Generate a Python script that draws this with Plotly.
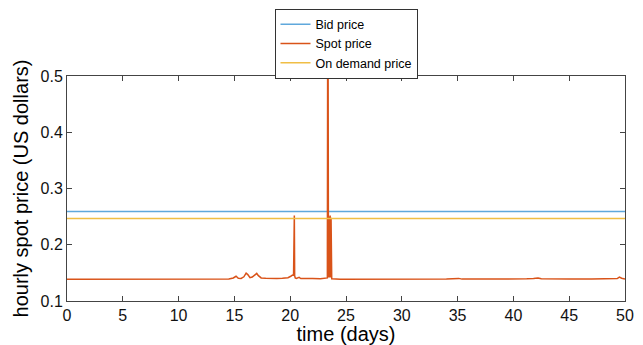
import plotly.graph_objects as go

# --- data ---
bid_price = 0.259
on_demand_price = 0.2467
x_range = [0, 50]

spot_days = [0, 2, 4, 6, 8, 10, 12, 13.5, 14.5, 14.9, 15.15, 15.35, 15.6, 15.85, 16.05, 16.2, 16.4,
             16.6, 16.8, 17.0, 17.15, 17.4, 17.8, 18.3, 18.8, 19.3, 19.8, 20.05, 20.2, 20.3,
             20.34, 20.37, 20.40, 20.45, 20.55, 20.8, 20.95, 21.3, 22.0, 22.7, 23.2, 23.33,
             23.36, 23.39, 23.42, 23.46, 23.5, 23.54, 23.58, 23.62, 23.66, 23.72, 24.5, 26,
             28, 30, 32, 34, 35.1, 35.4, 37, 39, 41.2, 41.8, 42.2, 42.5, 43.5, 45, 47, 48.4,
             48.8, 49.3, 49.5, 49.7, 50]
spot_values = [0.1387, 0.1388, 0.1387, 0.1388, 0.1387, 0.1388, 0.1388, 0.1389, 0.1392, 0.1410, 0.1440, 0.1405, 0.1402, 0.1430, 0.1495, 0.1470, 0.1415,
               0.1425, 0.1460, 0.1490, 0.1450, 0.1410, 0.1405, 0.1400, 0.1402, 0.1405, 0.1415, 0.1440, 0.1460, 0.1455,
               0.2520, 0.2520, 0.1450, 0.1410, 0.1400, 0.1420, 0.1400, 0.1395, 0.1398, 0.1396, 0.1400, 0.1410,
               0.6000, 0.6000, 0.2500, 0.1420, 0.2500, 0.1420, 0.2520, 0.1420, 0.2480, 0.1395, 0.1388, 0.1388,
               0.1390, 0.1388, 0.1390, 0.1389, 0.1402, 0.1389, 0.1390, 0.1389, 0.1395, 0.1402, 0.1410, 0.1395, 0.1390, 0.1389, 0.1390, 0.1392,
               0.1405, 0.1398, 0.1425, 0.1405, 0.1392]

BLUE = "#5FA8DC"
ORANGE = "#D95319"
YELLOW = "#F0BE45"
FONT = "Liberation Sans, Arial, sans-serif"

fig = go.Figure()
fig.add_trace(go.Scatter(x=x_range, y=[bid_price, bid_price], mode="lines",
                         name="Bid price", line=dict(color=BLUE, width=1.5)))
fig.add_trace(go.Scatter(x=spot_days, y=spot_values, mode="lines",
                         name="Spot price", line=dict(color=ORANGE, width=1.5)))
fig.add_trace(go.Scatter(x=x_range, y=[on_demand_price, on_demand_price], mode="lines",
                         name="On demand price", line=dict(color=YELLOW, width=1.5)))

axis_common = dict(showgrid=False, zeroline=False, showline=True, linecolor="#444444",
                   linewidth=1, mirror="ticks", ticks="inside", ticklen=5, tickcolor="#444444",
                   tickfont=dict(family=FONT, size=16, color="#111111"), automargin=False)

# page body has an 8px margin: figure size and margins compensate for it
fig.update_layout(
    width=635, height=337,
    margin=dict(l=59, r=18, t=68, b=44, autoexpand=False),
    paper_bgcolor="white", plot_bgcolor="white",
    font=dict(family=FONT, color="#000000"),
    showlegend=True,
    legend=dict(x=0.5, xanchor="center", y=1.30, yanchor="top",
                bgcolor="white", bordercolor="#333333", borderwidth=1,
                font=dict(family=FONT, size=12.5), tracegroupgap=0),
    xaxis=dict(range=[0, 50], tickvals=[0, 5, 10, 15, 20, 25, 30, 35, 40, 45, 50],
               title=dict(text="time (days)", font=dict(family=FONT, size=20), standoff=0), **axis_common),
    yaxis=dict(range=[0.1, 0.5], tickvals=[0.1, 0.2, 0.3, 0.4, 0.5],
               ticktext=["0.1", "0.2", "0.3", "0.4", "0.5"],
               title=dict(text="hourly spot price (US dollars)", font=dict(family=FONT, size=20), standoff=6),
               **axis_common),
)

fig.write_html("out.html")
